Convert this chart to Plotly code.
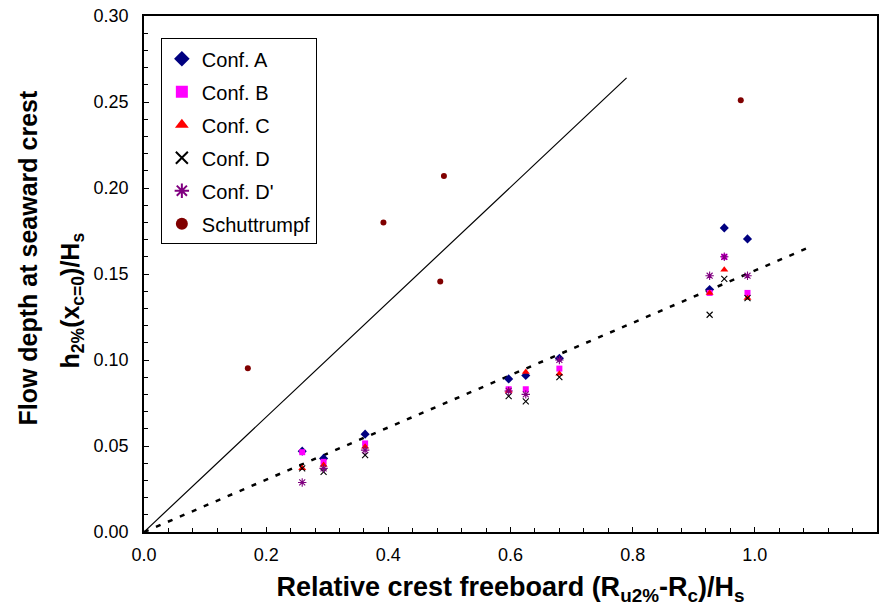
import plotly.graph_objects as go

# Relative crest freeboard for each test condition
x_vals = [0.259, 0.294, 0.362, 0.597, 0.625, 0.680, 0.926, 0.950, 0.988]

# Measured 2% flow depth at the seaward crest edge per configuration
conf_a = [0.047, 0.0428, 0.0569, 0.089, 0.091, 0.101, 0.141, 0.1768, 0.1704]
conf_b = [0.0464, 0.0408, 0.0515, 0.083, 0.083, 0.095, 0.139, 0.160, 0.139]
conf_c = [0.037, 0.0389, 0.0495, 0.082, 0.093, 0.092, 0.139, 0.1524, 0.136]
conf_d = [0.037, 0.035, 0.0447, 0.079, 0.076, 0.090, 0.1263, 0.1472, 0.136]
conf_d2 = [0.0288, 0.037, 0.0476, 0.082, 0.080, 0.100, 0.149, 0.160, 0.149]

# Schuttrumpf data
schut_x = [0.170, 0.392, 0.485, 0.491, 0.977]
schut_y = [0.0952, 0.180, 0.1457, 0.207, 0.251]

# Reference lines
solid_x = [0.0, 0.79]
solid_y = [0.0, 0.264]
fit_x = [0.0, 1.085]
fit_y = [0.0, 0.1649]

x_ticks = [0, 0.2, 0.4, 0.6, 0.8, 1.0, 1.2]
x_labels = ["0.0", "0.2", "0.4", "0.6", "0.8", "1.0", "1.2"]
y_ticks = [0, 0.05, 0.10, 0.15, 0.20, 0.25, 0.30]
y_labels = ["0.00", "0.05", "0.10", "0.15", "0.20", "0.25", "0.30"]

font_family = "Liberation Sans, Arial, sans-serif"

fig = go.Figure()

fig.add_trace(go.Scatter(x=solid_x, y=solid_y, mode="lines",
                         line=dict(color="black", width=1.2), showlegend=False))
fig.add_trace(go.Scatter(x=fit_x, y=fit_y, mode="lines",
                         line=dict(color="black", width=2.5, dash="5px,8px"),
                         showlegend=False))

series = [
    ("Conf. A", conf_a, "diamond", "#000080", 7, 0),
    ("Conf. B", conf_b, "square", "#FF00FF", 6, 0),
    ("Conf. C", conf_c, "triangle-up", "#FF0000", 7, 0),
    ("Conf. D", conf_d, "x-thin-open", "#000000", 6, 1.1),
    ("Conf. D'", conf_d2, "asterisk-open", "#800080", 7, 1.1),
]
for name, ys, sym, col, sz, lw in series:
    mk = dict(symbol=sym, color=col, size=sz)
    mk["line"] = dict(color=col, width=lw)
    fig.add_trace(go.Scatter(x=x_vals, y=ys, mode="markers", name=name,
                             legendgroup=name, marker=mk))

fig.add_trace(go.Scatter(x=schut_x, y=schut_y, mode="markers", name="Schuttrumpf",
                         legendgroup="Schuttrumpf",
                         marker=dict(symbol="circle", color="#800000", size=6,
                                     line=dict(width=0))))

axis_common = dict(
    showline=True, linecolor="black", linewidth=1.5, mirror=True,
    ticks="inside", ticklen=5, tickcolor="black", tickwidth=1,
    showgrid=False, zeroline=False,
    tickfont=dict(family=font_family, size=18, color="black"),
)

fig.update_xaxes(range=[0, 1.2], tickvals=x_ticks, ticktext=x_labels,
                 ticklabelstandoff=6,
                 minor=dict(dtick=0.04, ticks="inside", ticklen=4, tickcolor="black"),
                 title=dict(text="<b>Relative crest freeboard (R<sub>u2%</sub>-R<sub>c</sub>)/H<sub>s</sub></b>",
                            font=dict(family=font_family, size=27, color="black"),
                            standoff=13),
                 **axis_common)
fig.update_yaxes(range=[0, 0.30], tickvals=y_ticks, ticktext=y_labels,
                 ticklabelstandoff=10,
                 minor=dict(dtick=0.01, ticks="inside", ticklen=4, tickcolor="black"),
                 **axis_common)

fig.add_annotation(text="<b>Flow depth at seaward crest</b>", xref="paper", yref="paper",
                   x=0, y=(532 - 258) / 517, xshift=-116, textangle=-90,
                   showarrow=False, xanchor="center", yanchor="middle",
                   font=dict(family=font_family, size=25, color="black"))
fig.add_annotation(text="<b>h<sub>2%</sub>(x<sub>c=0</sub>)/H<sub>s</sub></b>",
                   xref="paper", yref="paper",
                   x=0, y=(532 - 300) / 517, xshift=-72, textangle=-90,
                   showarrow=False, xanchor="center", yanchor="middle",
                   font=dict(family=font_family, size=25, color="black"))

fig.update_layout(
    width=885, height=610,
    margin=dict(l=144, r=6, t=15, b=78),
    paper_bgcolor="white", plot_bgcolor="white",
    font=dict(family=font_family, color="black"),
    legend=dict(x=0.023, y=0.957, xanchor="left", yanchor="top",
                bgcolor="white", bordercolor="black", borderwidth=1,
                font=dict(family=font_family, size=20, color="black"),
                tracegroupgap=4, itemsizing="constant", itemwidth=30),
)

fig.write_html("out.html")
